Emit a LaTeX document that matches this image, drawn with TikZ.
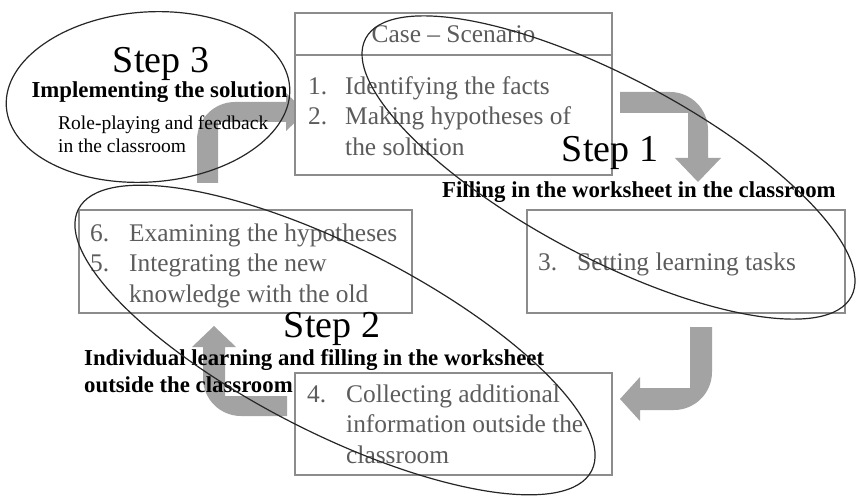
\documentclass[tikz,border=0pt]{standalone}
\usepackage{fontspec}
\setmainfont{Liberation Serif}
\definecolor{arrowgray}{RGB}{163,163,163}
\definecolor{boxline}{RGB}{140,140,140}
\definecolor{boxtext}{RGB}{92,92,92}

\begin{document}
\begin{tikzpicture}[x=1pt,y=1pt,
  stage/.style={draw=boxline, line width=1.4pt, fill=white},
  item/.style={anchor=base west, inner sep=0pt, text=boxtext, font=\fontsize{25.4}{30}\selectfont},
  steptitle/.style={anchor=base, inner sep=0pt, font=\fontsize{38}{44}\selectfont},
  steplabel/.style={anchor=base west, inner sep=0pt, font=\fontsize{22.8}{27}\selectfont\bfseries},
  stepnote/.style={anchor=base west, inner sep=0pt, font=\fontsize{19.5}{23}\selectfont},
  ring/.style={draw=black!85, line width=1.2pt},
  bent/.style={fill=arrowgray}]

% Set the page size
\fill[white] (0,0) rectangle (856,-497);
\useasboundingbox (0,0) rectangle (856,-497);

% Draw the bent arrows first, the boxes go on top
\fill[bent] (620,-92) -- (670,-92) arc[start angle=90, end angle=0, radius=38pt]
  -- (708,-158) -- (721,-158) -- (698,-182) -- (675,-158) -- (688,-158)
  -- (688,-113) -- (620,-113) -- cycle;
\fill[bent] (690,-327) -- (712,-327) -- (712,-372) arc[start angle=0, end angle=-90, radius=38pt]
  -- (640,-410) -- (640,-421) -- (620,-399) -- (640,-377) -- (640,-388)
  -- (690,-388) -- cycle;
\fill[bent] (287,-396) -- (287,-416) -- (241,-416) arc[start angle=-90, end angle=-180, radius=38pt]
  -- (203,-347) -- (192,-347) -- (214,-326) -- (236,-347) -- (225,-347)
  -- (225,-396) -- cycle;
\fill[bent] (218,-183) -- (197,-183) -- (197,-140) arc[start angle=180, end angle=90, radius=38pt]
  -- (286,-102) -- (286,-93) -- (306,-112) -- (286,-131) -- (286,-122)
  -- (218,-122) -- cycle;

% Draw the boxes
\draw[stage] (295,-13) rectangle (612,-175);
\draw[boxline, line width=1.4pt] (295,-55) -- (612,-55);
\draw[stage] (527,-210) rectangle (845,-313);
\draw[stage] (79,-210) rectangle (412,-313);
\draw[stage] (295,-373) rectangle (612,-475);

% Case box
\node[item, anchor=base] (case) at (453.5,-43) {Case – Scenario};
\node[item] (n1) at (308,-95) {1.};
\node[item] (facts) at (345,-95) {Identifying the facts};
\node[item] (n2) at (308,-125) {2.};
\node[item] (hypo) at (345,-125) {Making hypotheses of};
\node[item] (hypob) at (345,-156) {the solution};

% Task box
\node[item] (n3) at (538,-270) {3.};
\node[item] (tasks) at (577,-270) {Setting learning tasks};

% Left box
\node[item] (n6) at (90,-241) {6.};
\node[item] (exam) at (129,-241) {Examining the hypotheses};
\node[item] (n5) at (90,-271) {5.};
\node[item] (integ) at (129,-271) {Integrating the new};
\node[item] (integb) at (129,-302) {knowledge with the old};

% Bottom box
\node[item] (n4) at (307,-402) {4.};
\node[item] (coll) at (346,-402) {Collecting additional};
\node[item] (collb) at (346,-432) {information outside the};
\node[item] (collc) at (346,-463) {classroom};

% Step 1
\node[steptitle] (s1) at (610,-162) {Step 1};
\node[steplabel] (s1l) at (442,-197) {Filling in the worksheet in the classroom};

% Step 2
\node[steptitle] (s2) at (332,-337) {Step 2};
\node[steplabel] (s2l) at (84,-365) {Individual learning and filling in the worksheet};
\node[steplabel] (s2m) at (84,-392) {outside the classroom};

% Step 3
\node[steptitle] (s3) at (161,-73) {Step 3};
\node[steplabel, anchor=base] (s3l) at (159.5,-98) {Implementing the solution};
\node[stepnote] (s3n) at (58,-130) {Role-playing and feedback};
\node[stepnote] (s3m) at (58,-153) {in the classroom};

% Rings round the steps
\draw[ring, rotate around={4:(148,-97)}] (148,-97) ellipse[x radius=142pt, y radius=85pt];
\draw[ring, rotate around={-28:(608.5,-167.5)}] (608.5,-167.5) ellipse[x radius=275pt, y radius=90pt];
\draw[ring, rotate around={-27:(335,-340)}] (335,-340) ellipse[x radius=288pt, y radius=93pt];
\end{tikzpicture}
\end{document}
